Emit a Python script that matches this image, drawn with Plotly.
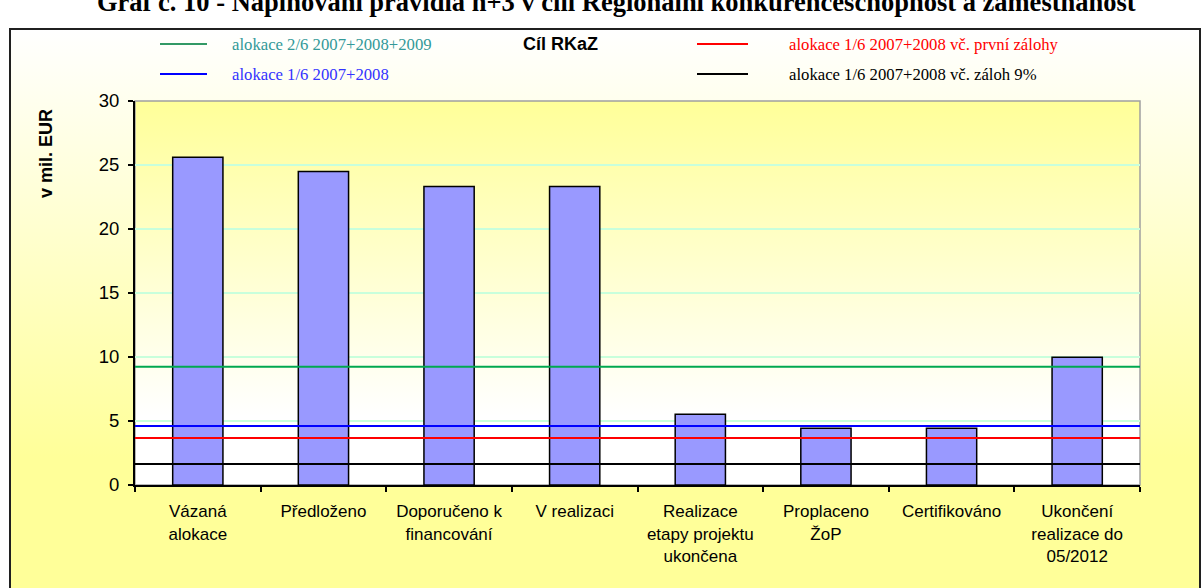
import base64
import plotly.graph_objects as go

# ---------------- data ----------------
categories = [
    "Vázaná<br>alokace",
    "Předloženo",
    "Doporučeno k<br>financování",
    "V realizaci",
    "Realizace<br>etapy projektu<br>ukončena",
    "Proplaceno<br>ŽoP",
    "Certifikováno",
    "Ukončení<br>realizace do<br>05/2012",
]
bar_values = [25.6, 24.5, 23.33, 23.33, 5.52, 4.43, 4.43, 9.98]

line_names = [
    "alokace 2/6 2007+2008+2009",
    "alokace 1/6 2007+2008",
    "alokace 1/6 2007+2008 vč. první zálohy",
    "alokace 1/6 2007+2008 vč. záloh 9%",
]
line_values = [9.24, 4.61, 3.67, 1.64]

y_ticks = [0, 5, 10, 15, 20, 25, 30]

title_text = "Graf č. 10 - Naplňování pravidla n+3 v cíli Regionální konkurenceschopnost a zaměstnanost"
legend_title = "Cíl RKaZ"
y_title = "v mil. EUR"

# ---------------- styling ----------------
W, H = 1203, 588
L, R, T, B = 135, 1140, 101, 485  # plot area in px


def px(x):
    return (x - L) / (R - L)


def py(y):
    return (B - y) / (B - T)


line_colors = ["#00A850", "#0000FF", "#FF0000", "#000000"]
legend_line_colors = ["#339966", "#0000FF", "#FF0000", "#000000"]
legend_text_colors = ["#339999", "#3333FF", "#FF0000", "#000000"]


def grad_uri(stops, x2=0, y2=1):
    s = "".join(f'<stop offset="{o}" stop-color="{c}"/>' for o, c in stops)
    svg = (
        '<svg xmlns="http://www.w3.org/2000/svg" width="200" height="200" '
        'viewBox="0 0 200 200" preserveAspectRatio="none"><defs>'
        f'<linearGradient id="g" x1="0" y1="0" x2="{x2}" y2="{y2}">{s}</linearGradient>'
        '</defs><rect x="0" y="0" width="200" height="200" fill="url(#g)"/></svg>'
    )
    return "data:image/svg+xml;base64," + base64.b64encode(svg.encode()).decode()


fig = go.Figure()

fig.add_trace(
    go.Bar(
        x=categories,
        y=bar_values,
        marker=dict(color="#9999FF", line=dict(color="#000000", width=1.5)),
        showlegend=False,
        hoverinfo="y",
    )
)

for name, val, col in zip(line_names, line_values, line_colors):
    fig.add_trace(
        go.Scatter(
            x=[0, 1],
            y=[val, val],
            xaxis="x2",
            mode="lines",
            line=dict(color=col, width=2),
            name=name,
            showlegend=False,
            hoverinfo="name+y",
        )
    )

images = [
    dict(
        source=grad_uri([(0, "#FFFFFF"), (0.75, "#FFFF99"), (1, "#FFFF99")]),
        xref="paper", yref="paper",
        x=px(10), y=py(29), sizex=px(1200) - px(10), sizey=py(29) - py(600),
        xanchor="left", yanchor="top", sizing="stretch", layer="below",
    ),
    dict(
        source=grad_uri([(0, "#FFFF99"), (0.82, "#FFFFFF"), (1, "#FFFFFF")]),
        xref="paper", yref="paper",
        x=0, y=1, sizex=1, sizey=1,
        xanchor="left", yanchor="top", sizing="stretch", layer="below",
    ),
]

shapes = [
    # outer frame
    dict(type="rect", xref="paper", yref="paper",
         x0=px(10), x1=px(1200), y0=py(600), y1=py(29),
         line=dict(color="#202020", width=2), fillcolor="rgba(0,0,0,0)", layer="below"),
    # plot area border
    dict(type="rect", xref="paper", yref="paper", x0=0, x1=1, y0=0, y1=1,
         line=dict(color="#A0A0A0", width=1.5), fillcolor="rgba(0,0,0,0)", layer="below"),
]

annotations = [
    dict(text=f"<b>{title_text}</b>", xref="paper", yref="paper",
         x=px(616), y=py(2), xanchor="center", yanchor="middle", showarrow=False,
         font=dict(family="Liberation Serif", size=26.5, color="#000000")),
    dict(text=f"<b>{legend_title}</b>", xref="paper", yref="paper",
         x=px(560), y=py(44), xanchor="center", yanchor="middle", showarrow=False,
         font=dict(family="Liberation Sans", size=18, color="#000000")),
    dict(text=f"<b>{y_title}</b>", xref="paper", yref="paper",
         x=px(46), y=py(154), xanchor="center", yanchor="middle", showarrow=False,
         textangle=-90,
         font=dict(family="Liberation Sans", size=18, color="#000000")),
]

# manual legend: (line x0, line x1, text x, row y)
legend_pos = [(160, 207, 230, 44), (160, 207, 230, 74), (697, 748, 787, 44), (697, 748, 787, 74)]
for name, lc, tc, (lx0, lx1, tx, ry) in zip(line_names, legend_line_colors, legend_text_colors, legend_pos):
    shapes.append(dict(type="line", xref="paper", yref="paper",
                       x0=px(lx0), x1=px(lx1), y0=py(ry), y1=py(ry),
                       line=dict(color=lc, width=2)))
    annotations.append(dict(text=name, xref="paper", yref="paper",
                            x=px(tx), y=py(ry), xanchor="left", yanchor="middle",
                            showarrow=False,
                            font=dict(family="Liberation Serif", size=16.7, color=tc)))

fig.update_layout(
    width=W, height=H,
    margin=dict(l=L, r=W - R, t=T, b=H - B, pad=0),
    paper_bgcolor="#FFFFFF",
    plot_bgcolor="rgba(0,0,0,0)",
    bargap=0.6,
    font=dict(family="Liberation Sans", size=17, color="#000000"),
    images=images,
    shapes=shapes,
    annotations=annotations,
    showlegend=False,
    xaxis=dict(
        type="category",
        showgrid=False,
        showline=True, linecolor="#000000", linewidth=2,
        ticks="outside", ticklen=5, tickwidth=1.5, tickcolor="#000000",
        tickson="boundaries",
        tickfont=dict(family="Liberation Sans", size=17, color="#000000"),
        tickangle=0,
        ticklabelstandoff=10,
        fixedrange=True,
    ),
    xaxis2=dict(overlaying="x", range=[0, 1], visible=False, fixedrange=True),
    yaxis=dict(
        range=[0, 30],
        tickvals=y_ticks,
        showgrid=True, gridcolor="#C8FFDC", gridwidth=1.5,
        zeroline=False,
        showline=True, linecolor="#000000", linewidth=2,
        ticks="outside", ticklen=5, tickwidth=1.5, tickcolor="#000000",
        tickfont=dict(family="Liberation Sans", size=18.5, color="#000000"),
        ticklabelstandoff=5,
        fixedrange=True,
    ),
)

fig.write_html(
    "out.html",
    config={"displayModeBar": False},
    post_script="document.body.style.margin='0px';document.body.style.overflow='hidden';",
)
